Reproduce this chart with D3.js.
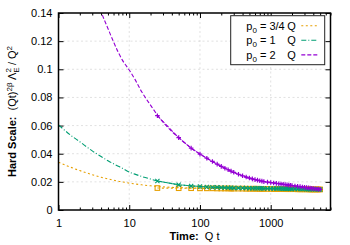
<!DOCTYPE html>
<html>
<head>
<meta charset="utf-8">
<script src="https://cdn.jsdelivr.net/npm/d3@7"></script>
<style>
  body { margin: 0; background: #fff; }
  svg { display: block; font-family: "Liberation Sans", Arial, sans-serif; }
</style>
</head>
<body>
<div id="chart"></div>
<script>
// fit curves (lines)
var fitT = [1, 1.5, 2, 3, 4, 5, 6, 7, 8, 10, 12, 15, 20, 25, 30, 40, 50, 75, 100, 150, 200, 300, 500, 700, 1000, 1500, 2000, 3000, 4000, 5000];
var fitQuarter = [0.0340, 0.0303, 0.0280, 0.0251, 0.0233, 0.0221, 0.0212, 0.0205, 0.0200, 0.0191, 0.0185, 0.0179, 0.0172, 0.0168, 0.0165, 0.0161, 0.0159, 0.0156, 0.0155, 0.0153, 0.0152, 0.0151, 0.0150, 0.0150, 0.0149, 0.0148, 0.0148, 0.0147, 0.0147, 0.0146];
var fitOne = [0.0605, 0.0530, 0.0485, 0.0420, 0.0380, 0.0350, 0.0328, 0.0311, 0.0297, 0.0270, 0.0255, 0.0238, 0.0220, 0.0207, 0.0199, 0.0188, 0.0181, 0.0172, 0.0167, 0.0162, 0.0160, 0.0157, 0.0155, 0.0154, 0.0153, 0.0151, 0.0150, 0.0149, 0.0148, 0.0147];
var fitTwo = [0.280, 0.225, 0.200, 0.162, 0.141, 0.129, 0.1195, 0.112, 0.1065, 0.0995, 0.0930, 0.0840, 0.0745, 0.0675, 0.0625, 0.0558, 0.0514, 0.0440, 0.0397, 0.0345, 0.0310, 0.0268, 0.0227, 0.0208, 0.0195, 0.0183, 0.0174, 0.0161, 0.0153, 0.0147];

// simulation points
var dataT = [25, 50, 75, 100, 125, 150, 175, 200, 225, 250, 275, 300, 350, 400, 450, 500, 550, 600, 650, 700, 750, 800, 900, 1000, 1100, 1200, 1300, 1400, 1500, 1600, 1700, 1800, 1900, 2000, 2200, 2400, 2600, 2800, 3000, 3200, 3400, 3600, 3800, 4000, 4250, 4500, 4750, 5000];
var dataQuarter = [0.0156, 0.0155, 0.0155, 0.0154, 0.0154, 0.0154, 0.0153, 0.0153, 0.0153, 0.0153, 0.0152, 0.0152, 0.0152, 0.0152, 0.0151, 0.0151, 0.0151, 0.0151, 0.0151, 0.0150, 0.0150, 0.0150, 0.0150, 0.0150, 0.0149, 0.0149, 0.0149, 0.0149, 0.0149, 0.0148, 0.0148, 0.0148, 0.0148, 0.0148, 0.0148, 0.0147, 0.0147, 0.0147, 0.0147, 0.0147, 0.0147, 0.0146, 0.0146, 0.0146, 0.0146, 0.0146, 0.0146, 0.0146];
var dataOne = [0.0206, 0.0179, 0.0171, 0.0167, 0.0164, 0.0162, 0.0161, 0.0160, 0.0159, 0.0158, 0.0158, 0.0157, 0.0157, 0.0156, 0.0156, 0.0155, 0.0155, 0.0155, 0.0154, 0.0154, 0.0154, 0.0153, 0.0153, 0.0153, 0.0152, 0.0152, 0.0152, 0.0152, 0.0151, 0.0151, 0.0151, 0.0151, 0.0150, 0.0150, 0.0150, 0.0150, 0.0149, 0.0149, 0.0149, 0.0148, 0.0148, 0.0148, 0.0148, 0.0147, 0.0147, 0.0147, 0.0146, 0.0146];
var dataTwo = [0.0670, 0.0514, 0.0440, 0.0397, 0.0368, 0.0345, 0.0326, 0.0310, 0.0297, 0.0286, 0.0276, 0.0268, 0.0254, 0.0243, 0.0234, 0.0227, 0.0221, 0.0216, 0.0212, 0.0208, 0.0205, 0.0202, 0.0198, 0.0195, 0.0192, 0.0189, 0.0187, 0.0185, 0.0183, 0.0181, 0.0179, 0.0177, 0.0176, 0.0174, 0.0171, 0.0168, 0.0166, 0.0163, 0.0161, 0.0159, 0.0157, 0.0156, 0.0154, 0.0153, 0.0151, 0.0149, 0.0148, 0.0147];

var yTicks = [0, 0.02, 0.04, 0.06, 0.08, 0.1, 0.12, 0.14];
var xTicks = [1, 10, 100, 1000];
var legendFrac = ["3/4", "1", "2"];

var width = 350, height = 245;
var plotLeft = 58.5, plotRight = 330.5, plotTop = 13, plotBottom = 210;
var fontSize = 11;

var series = [
  { frac: legendFrac[0], fit: fitQuarter, data: dataQuarter, color: "#e69f00", dash: "2,2.5", mark: "square" },
  { frac: legendFrac[1], fit: fitOne, data: dataOne, color: "#009e73", dash: "5,2,1,2", mark: "cross" },
  { frac: legendFrac[2], fit: fitTwo, data: dataTwo, color: "#9400d3", dash: "4,2", mark: "plus" }
];

var x = d3.scaleLog().domain([1, 7000]).range([plotLeft, plotRight]);
var y = d3.scaleLinear().domain([0, 0.14]).range([plotBottom, plotTop]);

var minorTicks = [];
[1, 10, 100, 1000].forEach(function(dec) {
  for (var k = 2; k <= 9; k++) {
    if (dec * k <= 7000) minorTicks.push(dec * k);
  }
});

var svg = d3.select("#chart").append("svg")
    .attr("width", width)
    .attr("height", height);

svg.append("defs").append("clipPath")
    .attr("id", "plotclip")
  .append("rect")
    .attr("x", plotLeft)
    .attr("y", plotTop)
    .attr("width", plotRight - plotLeft)
    .attr("height", plotBottom - plotTop);

// grid
var grid = svg.append("g")
    .attr("stroke", "#cccccc")
    .attr("stroke-width", 0.6)
    .attr("stroke-dasharray", "2,2.5");
grid.selectAll("line.gx")
    .data(xTicks.slice(1))
    .enter().append("line")
    .attr("x1", function(d) { return x(d); })
    .attr("x2", function(d) { return x(d); })
    .attr("y1", plotTop)
    .attr("y2", plotBottom);
grid.selectAll("line.gy")
    .data(yTicks.slice(1, -1))
    .enter().append("line")
    .attr("x1", plotLeft)
    .attr("x2", plotRight)
    .attr("y1", function(d) { return y(d); })
    .attr("y2", function(d) { return y(d); });

// axes with inward ticks
var xAxis = d3.axisBottom(x).tickValues(xTicks).tickSize(-5).tickPadding(9).tickFormat(d3.format("d"));
var xMinor = d3.axisBottom(x).tickValues(minorTicks).tickSize(-2.5).tickFormat("");
var xTop = d3.axisTop(x).tickValues(xTicks).tickSize(-5).tickFormat("");
var xTopMinor = d3.axisTop(x).tickValues(minorTicks).tickSize(-2.5).tickFormat("");
var yAxis = d3.axisLeft(y).tickValues(yTicks).tickSize(-5).tickPadding(6).tickFormat(d3.format("~g"));
var yRight = d3.axisRight(y).tickValues(yTicks).tickSize(-5).tickFormat("");

function styleAxis(g) {
  g.select(".domain").remove();
  g.selectAll(".tick line").attr("stroke", "#000").attr("stroke-width", 1);
  g.selectAll(".tick text")
      .attr("fill", "#000")
      .style("font-size", fontSize + "px")
      .style("font-family", "'Liberation Sans', Arial, sans-serif");
}

svg.append("g").attr("transform", "translate(0," + plotBottom + ")").call(xAxis).call(styleAxis);
svg.append("g").attr("transform", "translate(0," + plotBottom + ")").call(xMinor).call(styleAxis);
svg.append("g").attr("transform", "translate(0," + plotTop + ")").call(xTop).call(styleAxis);
svg.append("g").attr("transform", "translate(0," + plotTop + ")").call(xTopMinor).call(styleAxis);
svg.append("g").attr("transform", "translate(" + plotLeft + ",0)").call(yAxis).call(styleAxis);
svg.append("g").attr("transform", "translate(" + plotRight + ",0)").call(yRight).call(styleAxis);

// curves
var plot = svg.append("g").attr("clip-path", "url(#plotclip)");

var line = d3.line()
    .x(function(d) { return x(d[0]); })
    .y(function(d) { return y(d[1]); });

function marker(sel, kind, color) {
  var s = 2.3;
  if (kind === "square") {
    sel.append("rect")
        .attr("x", -s).attr("y", -s)
        .attr("width", 2 * s).attr("height", 2 * s)
        .attr("fill", "none")
        .attr("stroke", color)
        .attr("stroke-width", 1.1);
  } else if (kind === "cross") {
    s = 2.1;
    sel.append("path")
        .attr("d", "M" + (-s) + "," + (-s) + "L" + s + "," + s + "M" + (-s) + "," + s + "L" + s + "," + (-s))
        .attr("stroke", color)
        .attr("stroke-width", 1.1);
  } else {
    s = 2.3;
    sel.append("path")
        .attr("d", "M" + (-s) + ",0L" + s + ",0M0," + (-s) + "L0," + s)
        .attr("stroke", color)
        .attr("stroke-width", 1.2);
  }
}

series.forEach(function(sr) {
  var fitPts = fitT.map(function(t, i) { return [t, sr.fit[i]]; });
  var dataPts = dataT.map(function(t, i) { return [t, sr.data[i]]; });

  plot.append("path")
      .datum(fitPts)
      .attr("d", line.curve(d3.curveMonotoneX))
      .attr("fill", "none")
      .attr("stroke", sr.color)
      .attr("stroke-width", 1.1)
      .attr("stroke-dasharray", sr.dash);

  plot.append("path")
      .datum(dataPts)
      .attr("d", line.curve(d3.curveLinear))
      .attr("fill", "none")
      .attr("stroke", sr.color)
      .attr("stroke-width", 1.1)
      .attr("stroke-dasharray", sr.dash);

  plot.selectAll(null)
      .data(dataPts)
      .enter().append("g")
      .attr("transform", function(d) { return "translate(" + x(d[0]) + "," + y(d[1]) + ")"; })
      .each(function() { marker(d3.select(this), sr.mark, sr.color); });
});

// frame
svg.append("rect")
    .attr("x", plotLeft)
    .attr("y", plotTop)
    .attr("width", plotRight - plotLeft)
    .attr("height", plotBottom - plotTop)
    .attr("fill", "none")
    .attr("stroke", "#000")
    .attr("stroke-width", 1.5);

// legend
var legend = svg.append("g");
legend.append("rect")
    .attr("x", 230.7)
    .attr("y", 15.7)
    .attr("width", 94)
    .attr("height", 49)
    .attr("fill", "#fff")
    .attr("stroke", "#222")
    .attr("stroke-width", 1);

series.forEach(function(sr, i) {
  var cy = 25.7 + i * 14.6;
  var t = legend.append("text")
      .attr("x", 246.3)
      .attr("y", cy + 4)
      .style("font-size", fontSize + "px")
      .style("white-space", "pre");
  t.append("tspan").text("p");
  t.append("tspan").attr("dy", 3).style("font-size", "8px").text("0");
  t.append("tspan").attr("dy", -3).text(" = " + sr.frac);
  legend.append("text")
      .attr("x", 287.3)
      .attr("y", cy + 4)
      .style("font-size", fontSize + "px")
      .text("Q");
  legend.append("line")
      .attr("x1", 301.3)
      .attr("x2", 318)
      .attr("y1", cy)
      .attr("y2", cy)
      .attr("stroke", sr.color)
      .attr("stroke-width", 1.1)
      .attr("stroke-dasharray", sr.dash);
});

// axis labels
var xl = svg.append("text")
    .attr("x", (plotLeft + plotRight) / 2)
    .attr("y", 240)
    .attr("text-anchor", "middle")
    .style("font-size", fontSize + "px")
    .style("white-space", "pre");
xl.append("tspan").style("font-weight", "bold").text("Time:");
xl.append("tspan").text("  Q t");

var yl = svg.append("text")
    .attr("transform", "translate(16," + ((plotTop + plotBottom) / 2) + ") rotate(-90)")
    .attr("text-anchor", "middle")
    .style("font-size", fontSize + "px")
    .style("white-space", "pre");
yl.append("tspan").style("font-weight", "bold").text("Hard Scale:");
yl.append("tspan").text("  (Qt)");
yl.append("tspan").attr("dy", -4).style("font-size", "8px").text("2β");
yl.append("tspan").attr("dy", 4).text(" Λ");
yl.append("tspan").attr("dy", 3).style("font-size", "8px").text("E");
yl.append("tspan").attr("dx", -5.3).attr("dy", -8).style("font-size", "8px").text("2");
yl.append("tspan").attr("dy", 5).text(" / Q");
yl.append("tspan").attr("dy", -4).style("font-size", "8px").text("2");
</script>
</body>
</html>
